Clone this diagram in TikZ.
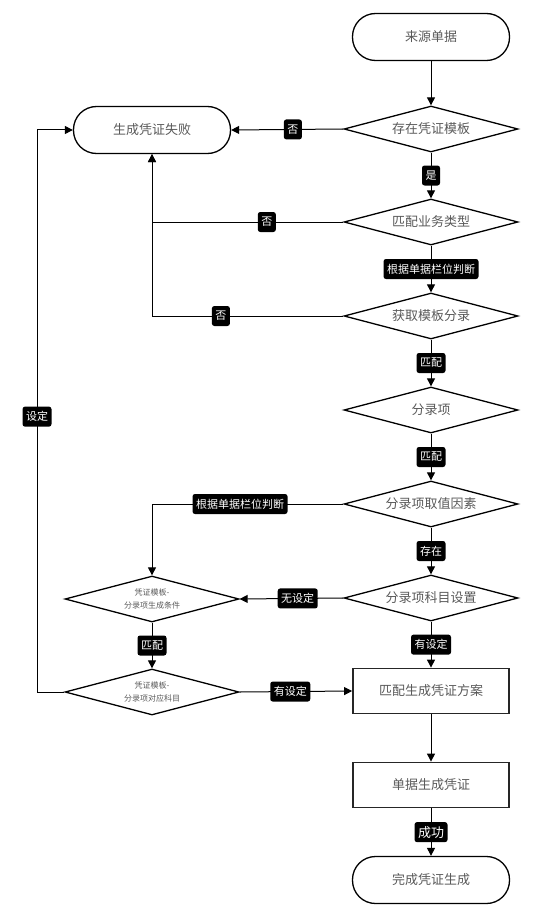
\documentclass[tikz,border=0pt]{standalone}
\usepackage{fontspec}
\setmainfont{Noto Sans CJK SC}
\usetikzlibrary{shapes.geometric,arrows.meta}

\begin{document}
\begin{tikzpicture}
[x=1pt, y=-1pt,
myterm/.style={rectangle, draw=black, line width=1.3pt, minimum width=157pt, minimum height=47pt, rounded corners=23pt, font=\fontsize{13}{15}\selectfont, text=black!65},
mydiamond/.style={diamond, aspect=3.8, draw=black, line width=1.3pt, minimum width=174pt, minimum height=46pt, inner sep=0pt, font=\fontsize{13}{15}\selectfont, text=black!65},
smalldiamond/.style={mydiamond, align=center, font=\fontsize{8}{13}\selectfont},
mybox/.style={rectangle, draw=black!85, line width=1.8pt, minimum width=156pt, minimum height=45pt, font=\fontsize{13}{15}\selectfont, text=black!65},
tlabel/.style={rectangle, fill=black, text=white, rounded corners=2.5pt, inner sep=3.5pt, minimum height=20pt, font=\fontsize{11}{13}\selectfont},
flow/.style={line width=1pt, -{Triangle[length=8pt,width=8pt]}},
]
\useasboundingbox (0,0) rectangle (534,915);

% main column
\node at (431,37) [myterm]      (source)    {来源单据};
\node at (431,129) [mydiamond]  (tmpl)      {存在凭证模板};
\node at (431,222) [mydiamond]  (bizt)      {匹配业务类型};
\node at (431,316) [mydiamond]  (entry)     {获取模板分录};
\node at (431,410) [mydiamond]  (item)      {分录项};
\node at (431,504) [mydiamond]  (itemval)   {分录项取值因素};
\node at (431,598) [mydiamond]  (subj)      {分录项科目设置};
\node at (431,691) [mybox]      (plan)      {匹配生成凭证方案};
\node at (431,785) [mybox]      (gen)       {单据生成凭证};
\node at (431,880) [myterm]     (done)      {完成凭证生成};

% left column
\node at (152,130) [myterm]     (fail)      {生成凭证失败};
\node at (152,599) [smalldiamond] (cond)    {凭证模板-\\分录项生成条件};
\node at (152,692) [smalldiamond] (acct)    {凭证模板-\\分录项对应科目};
\coordinate (back) at (37,692);

\draw[flow] (source) -- (tmpl);
\draw[flow] (tmpl) -- node[tlabel] {是} (bizt);
\draw[flow] (bizt) -- node[tlabel] {根据单据栏位判断} (entry);
\draw[flow] (entry) -- node[tlabel] {匹配} (item);
\draw[flow] (item) -- node[tlabel] {匹配} (itemval);
\draw[flow] (itemval) -- node[tlabel] {存在} (subj);
\draw[flow] (subj) -- node[tlabel] {有设定} (plan);
\draw[flow] (plan) -- (gen);
\draw[flow] (gen) -- node[tlabel, font=\fontsize{13}{15}\selectfont] {成功} (done);

\draw[flow] (tmpl.west) -- node[tlabel, pos=0.45] {否} (fail.east);
\draw[flow] (bizt.west) -| node[tlabel, pos=0.2] {否} (fail.south);
\draw[flow] (entry.west) -| node[tlabel, pos=0.32] {否} (fail.south);
\draw[flow] (itemval.west) -| node[tlabel, pos=0.27] {根据单据栏位判断} (cond.north);
\draw[flow] (subj.west) -- node[tlabel, pos=0.44] {无设定} (cond.east);
\draw[flow] (cond) -- node[tlabel] {匹配} (acct);
\draw[flow] (acct.east) -- node[tlabel, pos=0.45] {有设定} (plan.west);
\draw[flow] (acct.west) -- (back) |- node[tlabel, pos=0.245] {设定} (fail.west);
\end{tikzpicture}
\end{document}
